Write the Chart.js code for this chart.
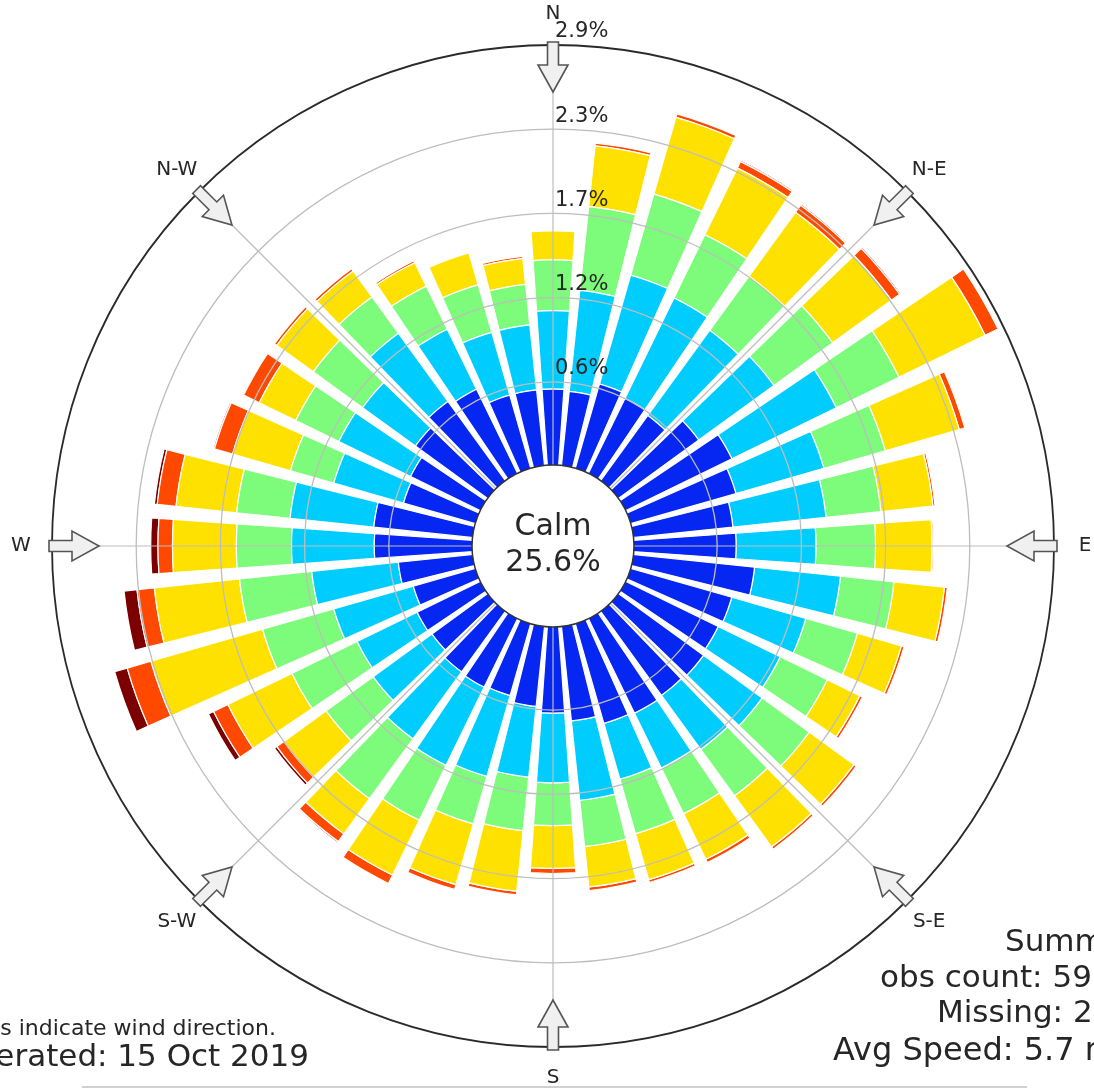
<!DOCTYPE html>
<html>
<head>
<meta charset="utf-8">
<script src="https://cdn.jsdelivr.net/npm/chart.js@4/dist/chart.umd.min.js"></script>
<style>
html,body{margin:0;padding:0;background:#ffffff;overflow:hidden}
canvas{display:block}
</style>
</head>
<body>
<canvas id="c" width="1094" height="1088"></canvas>
<script>
// ---- data (percent of observations per direction & speed bin) ----
const directions = [0,10,20,30,40,50,60,70,80,90,100,110,120,130,140,150,160,170,180,190,200,210,220,230,240,250,260,270,280,290,300,310,320,330,340,350];
const speedBins = ['Speed bin 1','Speed bin 2','Speed bin 3','Speed bin 4','Speed bin 5','Speed bin 6'];
const binColors = ['#0626f2','#00cdfd','#7dfb7a','#ffe100','#ff4800','#7c0000'];

const bin1 = [0.53,0.52,0.61,0.58,0.56,0.69,0.82,0.76,0.695,0.71,0.845,0.73,0.715,0.73,0.72,0.73,0.72,0.66,0.60,0.56,0.52,0.53,0.52,0.48,0.49,0.45,0.52,0.68,0.69,0.52,0.54,0.62,0.68,0.65,0.53,0.53];
const bin2 = [0.54,0.70,0.78,0.77,0.725,0.64,0.80,0.63,0.645,0.55,0.595,0.53,0.475,0.50,0.46,0.42,0.40,0.55,0.48,0.49,0.58,0.60,0.57,0.50,0.46,0.57,0.60,0.57,0.58,0.50,0.55,0.45,0.58,0.46,0.45,0.45];
const bin3 = [0.35,0.58,0.58,0.485,0.46,0.50,0.48,0.44,0.38,0.41,0.37,0.37,0.36,0.40,0.395,0.35,0.39,0.32,0.295,0.37,0.34,0.42,0.51,0.40,0.50,0.51,0.50,0.38,0.37,0.31,0.33,0.42,0.31,0.33,0.34,0.28];
const bin4 = [0.20,0.42,0.55,0.51,0.545,0.50,0.66,0.53,0.36,0.39,0.35,0.315,0.25,0.38,0.435,0.35,0.33,0.28,0.295,0.42,0.435,0.42,0.30,0.36,0.49,0.80,0.59,0.44,0.42,0.415,0.28,0.31,0.22,0.18,0.23,0.18];
const bin5 = [0,0.02,0.025,0.05,0.06,0.07,0.10,0.04,0.015,0.01,0.02,0.02,0.02,0.02,0.02,0.025,0.02,0.025,0.035,0.025,0.035,0.065,0.065,0.06,0.11,0.17,0.12,0.10,0.13,0.13,0.12,0.02,0.02,0.015,0,0.015];
const bin6 = [0,0,0,0.01,0.01,0.01,0,0,0,0,0,0,0,0,0,0,0,0,0,0,0,0,0.01,0.02,0.04,0.09,0.09,0.05,0.02,0.01,0,0,0,0,0,0];

const tickValues = [0.58,1.16,1.74,2.32,2.9];
const tickLabels = ['0.6%','1.2%','1.7%','2.3%','2.9%'];
const compassAngles = [0,45,90,135,180,225,270,315];
const compassLabels = ['N','N-E','E','S-E','S','S-W','W','N-W'];
const calmText = ['Calm','25.6%'];
const noteLines = ['Arrows indicate wind direction.','Generated: 15 Oct 2019'];
const summaryLines = ['Summary','obs count: 59','Missing: 2','Avg Speed: 5.7 m/s'];

// ---- build stacked (cumulative) datasets ----
const bins = [bin1,bin2,bin3,bin4,bin5,bin6];
const cumulative = [];
bins.forEach((b,k)=>{
  cumulative.push(b.map((v,i)=> (k? cumulative[k-1][i] : 0) + v));
});
const OPENING = 0.8;
const FONT = '"DejaVu Sans", "Liberation Sans", sans-serif';
const TXT = '#262626';

const stackPlugin = {
  id:'stackArcs',
  afterDatasetsUpdate(chart){
    const scale = chart.scales.r;
    const base = scale.getDistanceFromCenterForValue(0);
    for(let k=0;k<bins.length;k++){
      const meta = chart.getDatasetMeta(k);
      meta.data.forEach((arc,i)=>{
        const inner = k===0 ? base : chart.getDatasetMeta(k-1).data[i].outerRadius;
        const mid = (arc.startAngle+arc.endAngle)/2;
        const half = (arc.endAngle-arc.startAngle)/2*OPENING;
        arc.innerRadius = inner;
        arc.startAngle = mid-half;
        arc.endAngle = mid+half;
      });
    }
  }
};

const decorPlugin = {
  id:'decor',
  afterDraw(chart){
    const ctx = chart.ctx;
    const s = chart.scales.r;
    const cx = s.xCenter, cy = s.yCenter;
    const R = s.getDistanceFromCenterForValue(2.9);
    const base = s.getDistanceFromCenterForValue(0);
    const pt = (deg,r,w)=>{
      const a = deg*Math.PI/180;
      return [cx + r*Math.sin(a) + (w||0)*Math.cos(a), cy - r*Math.cos(a) + (w||0)*Math.sin(a)];
    };
    ctx.save();
    // radial lines
    ctx.strokeStyle = '#bdbdbd';
    ctx.lineWidth = 1.2;
    compassAngles.forEach(d=>{
      const p = pt(d,R);
      ctx.beginPath(); ctx.moveTo(cx,cy); ctx.lineTo(p[0],p[1]); ctx.stroke();
    });
    // calm circle
    ctx.beginPath();
    ctx.arc(cx,cy,base+1,0,Math.PI*2);
    ctx.fillStyle = '#ffffff'; ctx.fill();
    ctx.strokeStyle = '#333333'; ctx.lineWidth = 1.5; ctx.stroke();
    ctx.fillStyle = TXT;
    ctx.textAlign = 'center'; ctx.textBaseline = 'middle';
    ctx.font = '30px ' + FONT;
    ctx.fillText(calmText[0], cx, cy-19);
    ctx.fillText(calmText[1], cx, cy+17);
    // tick labels
    ctx.font = '21px ' + FONT;
    ctx.textAlign = 'left';
    tickValues.forEach((v,i)=>{
      const d = s.getDistanceFromCenterForValue(v);
      ctx.fillText(tickLabels[i], cx+2, cy-d-13);
    });
    // arrows
    compassAngles.forEach(d=>{
      const poly = [[R+3,-5.5],[R-20,-5.5],[R-20,-15],[R-47,0],[R-20,15],[R-20,5.5],[R+3,5.5]];
      ctx.beginPath();
      poly.forEach((q,j)=>{ const p = pt(d,q[0],q[1]); j? ctx.lineTo(p[0],p[1]) : ctx.moveTo(p[0],p[1]); });
      ctx.closePath();
      ctx.fillStyle = '#f0f0f0'; ctx.fill();
      ctx.strokeStyle = '#555555'; ctx.lineWidth = 1.6; ctx.stroke();
    });
    // compass labels
    ctx.fillStyle = TXT;
    ctx.font = '20px ' + FONT;
    ctx.textAlign = 'center'; ctx.textBaseline = 'middle';
    compassAngles.forEach((d,i)=>{
      const p = pt(d,R+31);
      ctx.fillText(compassLabels[i], p[0], p[1]);
    });
    // bottom-left notes
    ctx.textBaseline = 'alphabetic';
    ctx.textAlign = 'right';
    ctx.font = '22px ' + FONT;
    ctx.fillText(noteLines[0], 276, 1035);
    ctx.font = '31px ' + FONT;
    ctx.fillText(noteLines[1], 309, 1066);
    // summary (right)
    ctx.textAlign = 'left';
    ctx.font = '31px ' + FONT;
    ctx.fillText(summaryLines[0], 1005, 951);
    ctx.fillText(summaryLines[1], 880, 987);
    ctx.fillText(summaryLines[2], 937, 1022);
    ctx.font = '32px ' + FONT;
    ctx.fillText(summaryLines[3], 833, 1060);
    // faint bottom rule
    ctx.strokeStyle = '#d0d0d0'; ctx.lineWidth = 2;
    ctx.beginPath(); ctx.moveTo(82,1087); ctx.lineTo(1027,1087); ctx.stroke();
    ctx.restore();
  }
};

new Chart(document.getElementById('c'), {
  type:'polarArea',
  data:{
    labels: directions.map(d=>d+'°'),
    datasets: speedBins.map((name,k)=>({
      label: name,
      data: cumulative[k],
      backgroundColor: binColors[k],
      borderColor: '#ffffff',
      borderWidth: 1.2
    }))
  },
  options:{
    responsive:false,
    devicePixelRatio:1,
    animation:false,
    events:[],
    layout:{padding:{left:52,right:40,top:45,bottom:41}},
    plugins:{legend:{display:false},tooltip:{enabled:false}},
    scales:{
      r:{
        min:-0.551,
        max:2.9,
        startAngle:-5,
        ticks:{display:false, stepSize:0.58},
        afterBuildTicks:(scale)=>{ scale.ticks = tickValues.map(v=>({value:v})); },
        grid:{
          display:true,
          circular:true,
          z:1,
          color:(c)=> (c.tick && c.tick.value===2.9) ? '#2a2a2a' : '#bdbdbd',
          lineWidth:(c)=> (c.tick && c.tick.value===2.9) ? 1.8 : 1.3
        },
        angleLines:{display:false},
        pointLabels:{display:false}
      }
    }
  },
  plugins:[stackPlugin, decorPlugin]
});
</script>
</body>
</html>
